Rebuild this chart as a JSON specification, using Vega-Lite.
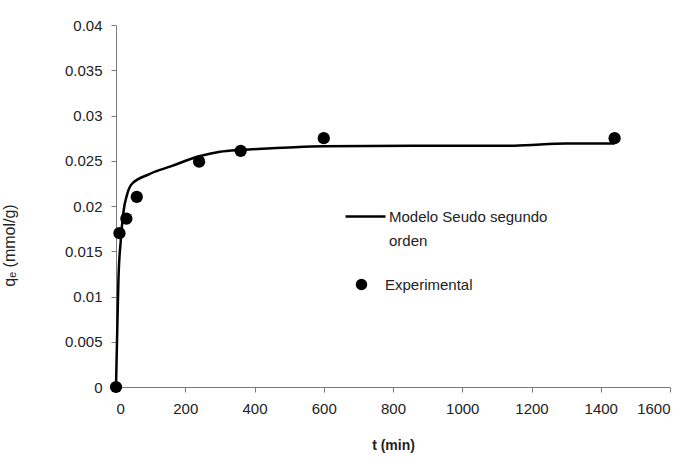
{
  "$schema": "https://vega.github.io/schema/vega-lite/v6.json",
  "width": 554,
  "height": 362,
  "autosize": {"type": "none"},
  "padding": {"left": 116, "top": 25, "right": 22, "bottom": 74},
  "background": "white",
  "config": {
    "view": {"stroke": null},
    "font": "Liberation Sans",
    "style": {"guide-label": {"lineHeight": 24}},
    "axis": {
      "grid": false,
      "domainColor": "#7a7a7a",
      "tickColor": "#7a7a7a",
      "tickSize": 5,
      "labelFont": "Liberation Sans",
      "labelFontSize": 15,
      "labelColor": "#222222",
      "titleFont": "Liberation Sans",
      "titleFontSize": 14,
      "titleColor": "#222222"
    },
    "legend": {
      "labelFont": "Liberation Sans",
      "labelFontSize": 15,
      "labelColor": "#222222",
      "labelLimit": 400,
      "title": null
    }
  },
  "resolve": {"scale": {"color": "independent"}, "legend": {"color": "independent"}},
  "encoding": {
    "x": {
      "field": "t",
      "type": "quantitative",
      "scale": {"domain": [0, 1600], "nice": false, "zero": true},
      "axis": {
        "values": [0, 200, 400, 600, 800, 1000, 1200, 1400, 1600],
        "format": "d",
        "labelPadding": 9,
        "title": "t (min)",
        "titleFontWeight": "bold",
        "titlePadding": 22
      }
    },
    "y": {
      "field": "q",
      "type": "quantitative",
      "scale": {"domain": [0, 0.04], "nice": false},
      "axis": {
        "values": [0, 0.005, 0.01, 0.015, 0.02, 0.025, 0.03, 0.035, 0.04],
        "format": ".3~f",
        "labelPadding": 9,
        "title": "qₑ (mmol/g)",
        "titleFontWeight": "normal",
        "titleFontSize": 16,
        "titleAngle": -90,
        "titleX": -102,
        "titleY": 220,
        "titleAlign": "center",
        "titleBaseline": "alphabetic"
      }
    }
  },
  "layer": [
    {
      "data": {
        "values": [
          {"t": 0, "q": 0, "serie": "Modelo Seudo segundo orden"},
          {"t": 3, "q": 0.0052, "serie": "Modelo Seudo segundo orden"},
          {"t": 7, "q": 0.0118, "serie": "Modelo Seudo segundo orden"},
          {"t": 14, "q": 0.0163, "serie": "Modelo Seudo segundo orden"},
          {"t": 21, "q": 0.0192, "serie": "Modelo Seudo segundo orden"},
          {"t": 33, "q": 0.0214, "serie": "Modelo Seudo segundo orden"},
          {"t": 45, "q": 0.0224, "serie": "Modelo Seudo segundo orden"},
          {"t": 95, "q": 0.0235, "serie": "Modelo Seudo segundo orden"},
          {"t": 160, "q": 0.0244, "serie": "Modelo Seudo segundo orden"},
          {"t": 240, "q": 0.0255, "serie": "Modelo Seudo segundo orden"},
          {"t": 300, "q": 0.026, "serie": "Modelo Seudo segundo orden"},
          {"t": 360, "q": 0.0262, "serie": "Modelo Seudo segundo orden"},
          {"t": 410, "q": 0.0263, "serie": "Modelo Seudo segundo orden"},
          {"t": 515, "q": 0.0265, "serie": "Modelo Seudo segundo orden"},
          {"t": 600, "q": 0.0266, "serie": "Modelo Seudo segundo orden"},
          {"t": 860, "q": 0.02667, "serie": "Modelo Seudo segundo orden"},
          {"t": 1150, "q": 0.02667, "serie": "Modelo Seudo segundo orden"},
          {"t": 1300, "q": 0.0269, "serie": "Modelo Seudo segundo orden"},
          {"t": 1440, "q": 0.0269, "serie": "Modelo Seudo segundo orden"}
        ]
      },
      "mark": {"type": "line", "interpolate": "monotone", "strokeWidth": 2.5},
      "encoding": {
        "color": {
          "field": "serie",
          "type": "nominal",
          "scale": {"range": ["black"]},
          "legend": {
            "orient": "none",
            "legendX": 228,
            "legendY": 170,
            "symbolType": "stroke",
            "symbolSize": 1600,
            "symbolStrokeWidth": 2.5,
            "labelOffset": 2,
            "labelExpr": "['Modelo Seudo segundo', 'orden']"
          }
        }
      }
    },
    {
      "data": {
        "values": [
          {"t": 0, "q": 0, "serie": "Experimental"},
          {"t": 10, "q": 0.017, "serie": "Experimental"},
          {"t": 30, "q": 0.0186, "serie": "Experimental"},
          {"t": 60, "q": 0.021, "serie": "Experimental"},
          {"t": 240, "q": 0.0249, "serie": "Experimental"},
          {"t": 360, "q": 0.0261, "serie": "Experimental"},
          {"t": 600, "q": 0.0275, "serie": "Experimental"},
          {"t": 1440, "q": 0.0275, "serie": "Experimental"}
        ]
      },
      "mark": {"type": "circle", "opacity": 1, "size": 150},
      "encoding": {
        "color": {
          "field": "serie",
          "type": "nominal",
          "scale": {"range": ["black"]},
          "legend": {
            "orient": "none",
            "legendX": 238,
            "legendY": 252,
            "symbolType": "circle",
            "symbolSize": 130,
            "symbolOpacity": 1,
            "labelOffset": 16
          }
        }
      }
    }
  ]
}
